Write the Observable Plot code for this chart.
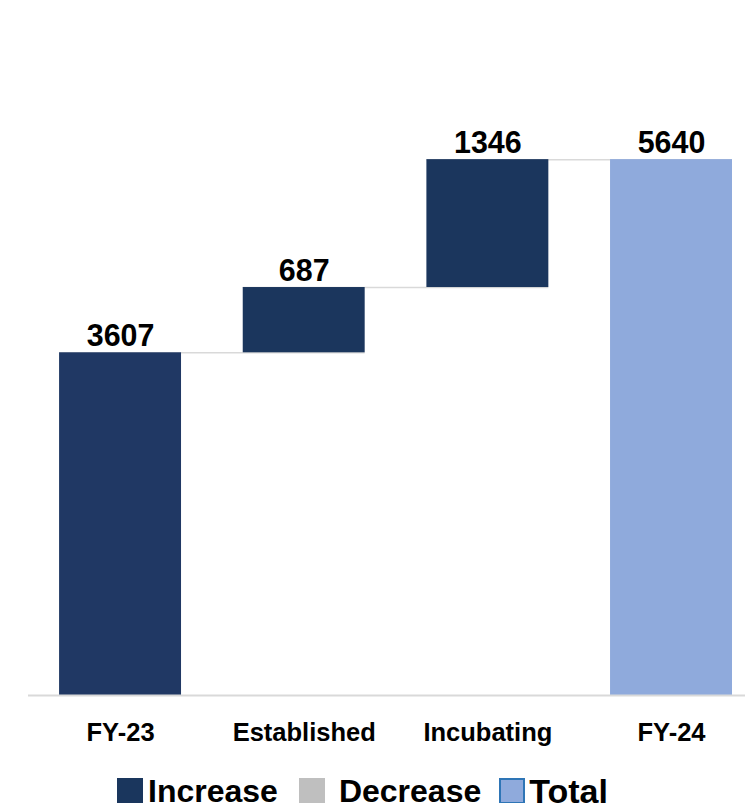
<!DOCTYPE html>
<html>
<head>
<meta charset="utf-8">
<script src="https://cdn.jsdelivr.net/npm/d3@7"></script>
<script src="https://cdn.jsdelivr.net/npm/@observablehq/plot@0.6"></script>
<style>
  body { margin: 0; background: #fff; font-family: "Liberation Sans", Arial, sans-serif; overflow: hidden; }
  #chart svg { display: block; }
  .legend { display: flex; align-items: center; padding-left: 117px; margin-top: 28px; height: 26px;
            font: bold 32px "Liberation Sans", Arial, sans-serif; color: #000; white-space: nowrap; line-height: 26px; }
  .legend .sw { width: 26px; height: 26px; box-sizing: border-box; flex: none; }
  .legend .item { display: flex; align-items: center; }
</style>
</head>
<body>
<div id="chart"></div>
<div class="legend">
  <div class="item"><div class="sw" style="background:#1a365d;margin-right:5px"></div><span>Increase</span></div>
  <div class="item" style="margin-left:21px"><div class="sw" style="background:#bfbfbf;margin-right:14px"></div><span>Decrease</span></div>
  <div class="item" style="margin-left:18px"><div class="sw" style="background:#8faadc;border:2px solid #2e75b6;margin-right:4px"></div><span style="font-size:34px">Total</span></div>
</div>
<script>
const categories = ["FY-23", "Established", "Incubating", "FY-24"];
const values = [3607, 687, 1346, 5640];
const kinds = ["start", "increase", "increase", "total"];
const colors = {start: "#203864", increase: "#1b365d", decrease: "#bfbfbf", total: "#8faadc"};

// build waterfall rows
let running = 0;
const rows = categories.map((c, i) => {
  let y1, y2;
  if (kinds[i] === "total" || kinds[i] === "start") { y1 = 0; y2 = values[i]; running = values[i]; }
  else { y1 = running; y2 = running + values[i]; running = y2; }
  return {category: c, value: values[i], kind: kinds[i], y1, y2};
});
const connectors = rows.slice(0, -1).map((r, i) => ({from: r.category, to: rows[i + 1].category, y: r.y2}));

const chart = Plot.plot({
  width: 745,
  height: 750,
  marginLeft: 28,
  marginRight: 0,
  marginTop: 0,
  marginBottom: 55,
  style: {fontFamily: "'Liberation Sans', Arial, sans-serif", background: "#fff"},
  x: {domain: categories, paddingInner: 0.336, paddingOuter: 0.12, align: 0.705, round: false, label: null},
  y: {domain: [0, 7315], axis: null},
  marks: [
    Plot.ruleY(connectors, {x1: "from", x2: "to", y: "y", stroke: "#d9d9d9", strokeWidth: 1.5}),
    Plot.barY(rows, {x: "category", y1: "y1", y2: "y2", fill: d => colors[d.kind]}),
    Plot.ruleY([0], {stroke: "#d9d9d9", strokeWidth: 2}),
    Plot.text(rows, {x: "category", y: "y2", text: d => String(d.value), dy: -17, fontSize: 32, fontWeight: "bold", fill: "#000"}),
    Plot.axisX({tickSize: 0, tickPadding: 27, fontSize: 25.5, fontWeight: "bold", fill: "#000", label: null})
  ]
});
document.getElementById("chart").appendChild(chart);

// slightly condense the value labels around their centres (reference type is a bit narrow)
function condense(selector, sx) {
  chart.querySelectorAll(selector).forEach(t => {
    const parent = t.parentNode;
    const r = t.getBoundingClientRect();
    const pt = chart.createSVGPoint();
    pt.x = r.left + r.width / 2; pt.y = r.top;
    const p = pt.matrixTransform(parent.getScreenCTM().inverse());
    const g = document.createElementNS("http://www.w3.org/2000/svg", "g");
    g.setAttribute("transform", `translate(${p.x},0) scale(${sx},1) translate(${-p.x},0)`);
    parent.insertBefore(g, t);
    g.appendChild(t);
  });
}
condense('g[aria-label="text"] text', 0.95);
</script>
</body>
</html>
